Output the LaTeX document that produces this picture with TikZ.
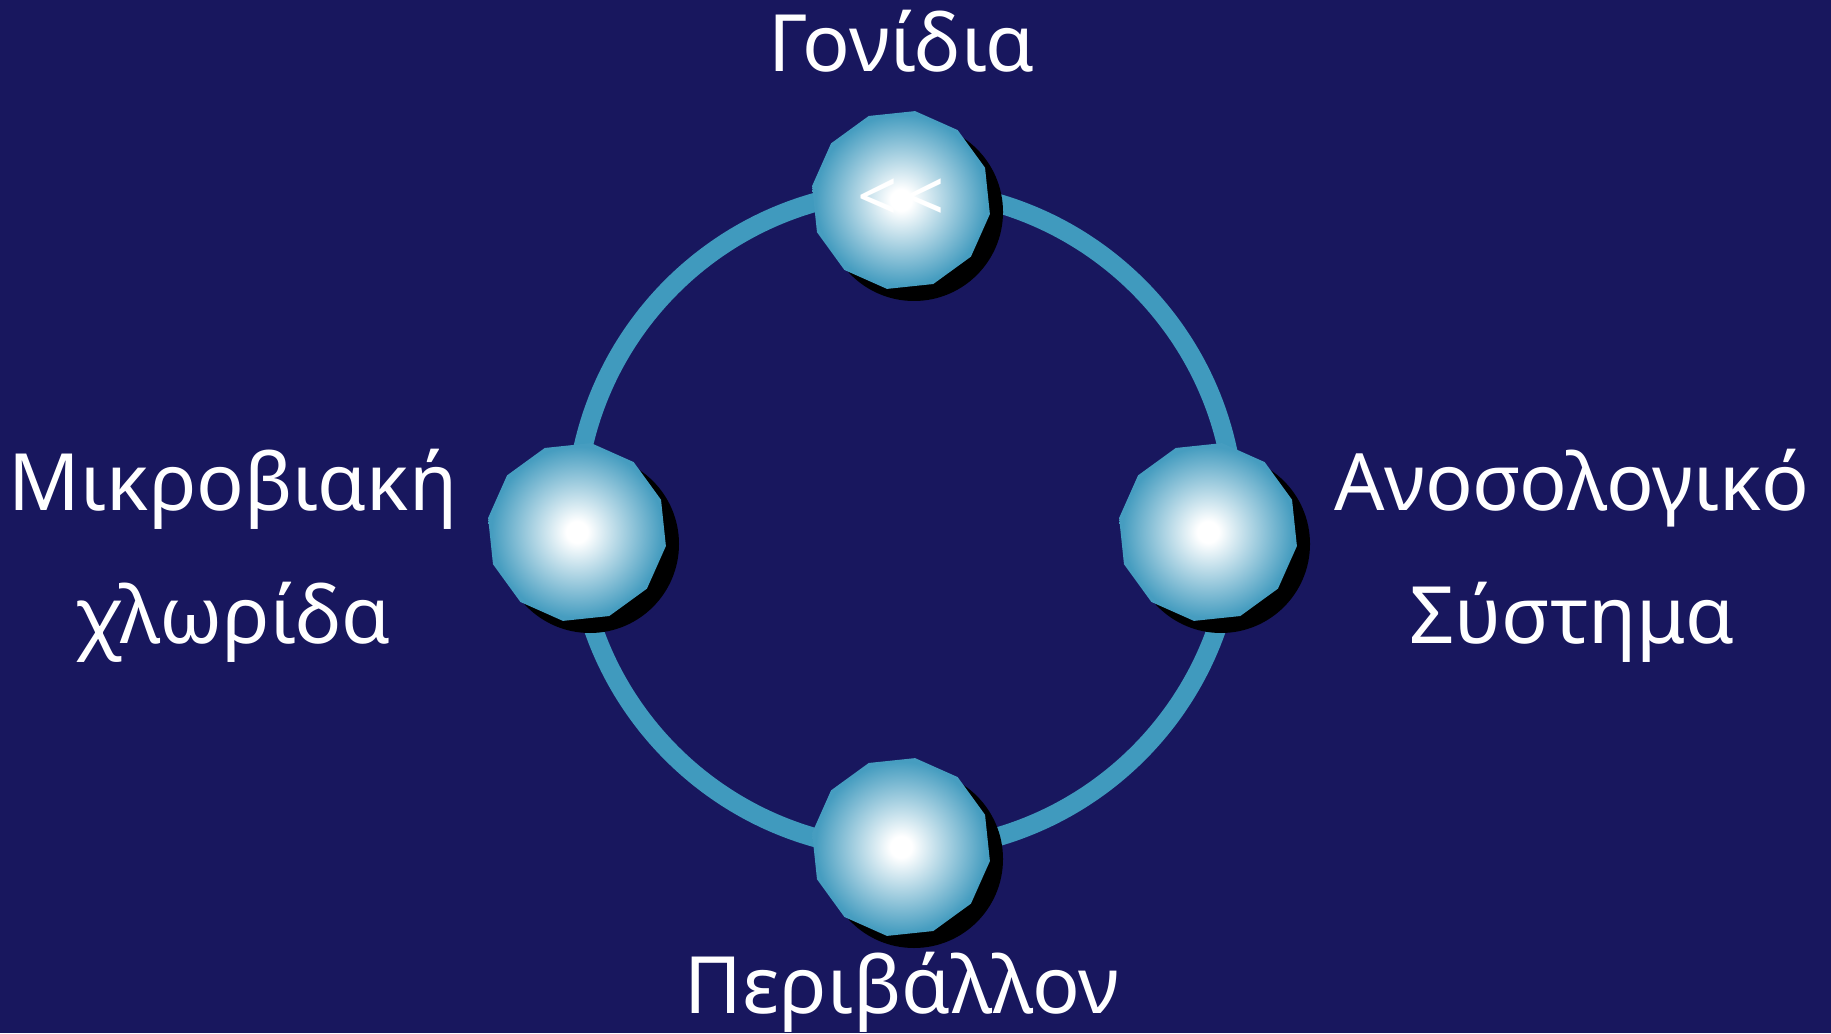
\documentclass[tikz,border=0pt]{standalone}
\usepackage{fontspec}
\setmainfont{Noto Sans}
\usepackage{tikz}
\usetikzlibrary{shapes.geometric}

\definecolor{bgnavy}{RGB}{24,23,94}
\definecolor{ringblue}{RGB}{64,154,190}
\definecolor{beadblue}{RGB}{70,157,192}
\pgfdeclareradialshading{beadglow}{\pgfpoint{0bp}{0bp}}{color(0bp)=(white); color(3bp)=(white); color(24bp)=(beadblue); color(50bp)=(beadblue)}

\begin{document}
\begin{tikzpicture}[
                bead/.style={regular polygon, regular polygon sides=12, minimum size=1.8cm,
                inner sep=0pt, shading=beadglow, shape border rotate=6, text=white},
                txt/.style={text=white, align=center, font=\fontsize{22.5}{37.8}\selectfont}
            ]
        \useasboundingbox (0,0) rectangle (18.31,10.33);
        \fill[bgnavy] (0,0) rectangle (18.31,10.33);

        % ring
        \draw[ringblue, line width=5.4pt] (9.05,5.13) circle (3.30);

        % shadows
        \fill[black] (9.14,8.21)  circle (0.89);
        \fill[black] (5.90,4.89)  circle (0.89);
        \fill[black] (12.21,4.89) circle (0.89);
        \fill[black] (9.14,1.74)  circle (0.89);

        \node[bead] (genes)  at (9.01,8.33)  {\raisebox{-1.5pt}{\fontsize{20}{24}\selectfont <\kern2pt<}};
        \node[bead] (flora)  at (5.77,5.01)  {};
        \node[bead] (immune) at (12.08,5.01) {};
        \node[bead] (env)    at (9.01,1.86)  {};

        \node[txt, anchor=base] (genestxt)  at (9.02,9.61)  {Γονίδια};
        \node[txt, anchor=base] (floratxt)  at (2.33,3.90)  {Μικροβιακή\\χλωρίδα};
        \node[txt, anchor=base] (immunetxt) at (15.72,3.90) {Ανοσολογικό\\Σύστημα};
        \node[txt, anchor=base] (envtxt)    at (9.02,0.20)  {Περιβάλλον};
            \end{tikzpicture}
\end{document}
